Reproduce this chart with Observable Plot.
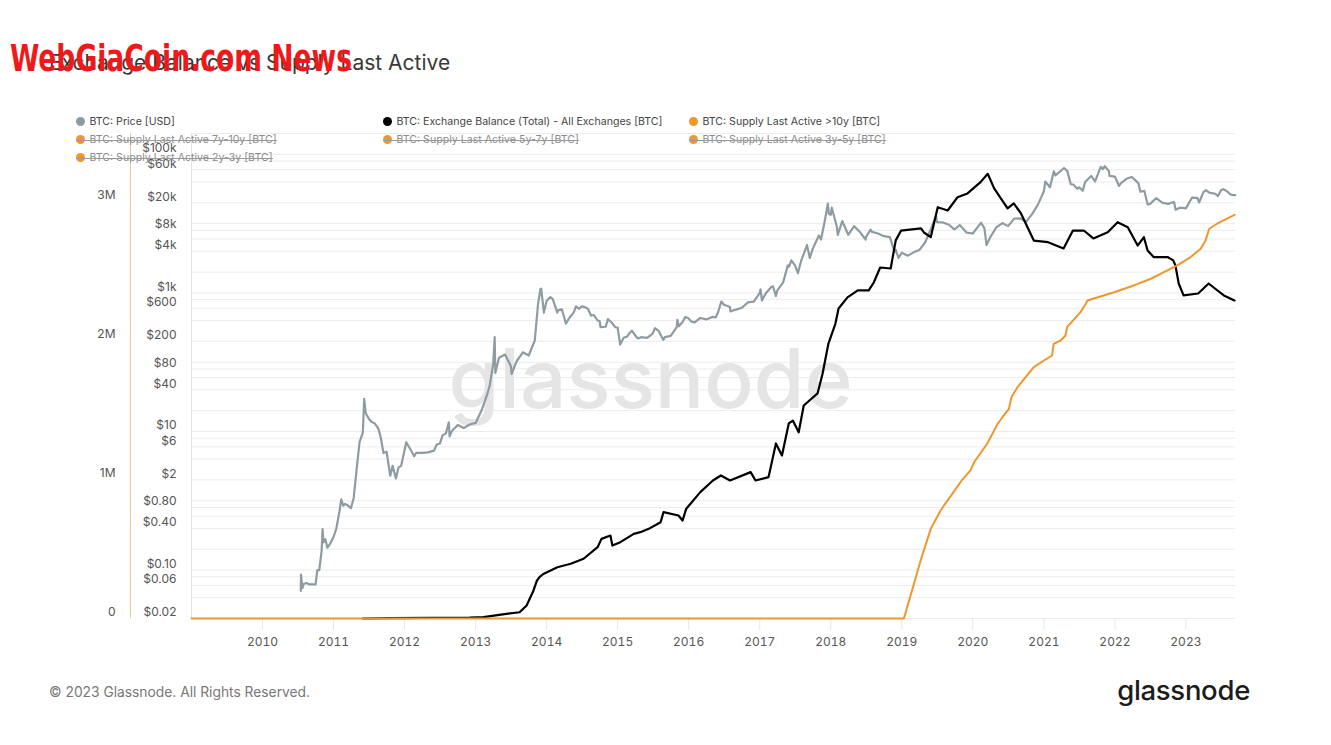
<!DOCTYPE html>
<html><head><meta charset="utf-8">
<script src="https://cdn.jsdelivr.net/npm/d3@7"></script>
<script src="https://cdn.jsdelivr.net/npm/@observablehq/plot@0.6"></script>
<style>
body{margin:0;background:#fff;font-family:Inter,"Noto Sans",sans-serif;}
#wrap{position:relative;width:1331px;height:745px;overflow:hidden;background:#fff;}
.abs{position:absolute;}
#title{left:49px;top:49px;font-size:21px;color:#383838;white-space:nowrap;line-height:28px;}
#wm{left:10px;top:36px;font-family:"Liberation Sans Narrow","DejaVu Sans Condensed","Liberation Sans",sans-serif;font-weight:bold;font-size:38px;color:#f01818;white-space:nowrap;line-height:44px;transform-origin:0 50%;}
#box{left:49px;top:103px;width:1199px;height:555px;border:1px solid #e4e4e4;}
#p1,#p2{position:absolute;left:0;top:103px;}
.leg{position:absolute;font-size:10.6px;color:#454545;white-space:nowrap;line-height:14px;}
.leg .dot{display:inline-block;width:9px;height:9px;border-radius:50%;margin-right:5px;vertical-align:-1px;}
.leg.off{color:#8c8c8c;}
.leg.off::after{content:"";position:absolute;left:0;right:0;top:7px;height:1px;background:#9a9a9a;}
#foot{left:49px;top:683px;font-size:13.8px;color:#777;white-space:nowrap;line-height:18px;}
#logo{right:81px;top:672px;font-size:27.5px;font-weight:500;color:#1c1c1c;letter-spacing:-0.3px;line-height:36px;}
</style></head>
<body><div id="wrap">
<div id="title" class="abs">Exchange Balance vs Supply Last Active</div>
<div id="wm" class="abs">WebGiaCoin.com News</div>
<div id="box" class="abs"></div>
<div id="p1"></div><div id="p2"></div>
<div id="legend"></div>
<div id="foot" class="abs">© 2023 Glassnode. All Rights Reserved.</div>
<div id="logo" class="abs">glassnode</div>
</div>
<script>
// ---- legend ----
const legendNames = ["BTC: Price [USD]","BTC: Exchange Balance (Total) - All Exchanges [BTC]","BTC: Supply Last Active >10y [BTC]",
 "BTC: Supply Last Active 7y-10y [BTC]","BTC: Supply Last Active 5y-7y [BTC]","BTC: Supply Last Active 3y-5y [BTC]",
 "BTC: Supply Last Active 2y-3y [BTC]"];
const legendColors = ["#8d9ca2","#000000","#f0962e","#f0962e","#f0962e","#f0962e","#f0962e"];
const legendOff = [false,false,false,true,true,true,true];

// ---- axes ----
const years = [2010,2011,2012,2013,2014,2015,2016,2017,2018,2019,2020,2021,2022,2023];
const priceTicks = [100000,60000,20000,8000,4000,1000,600,200,80,40,10,6,2,0.8,0.4,0.1,0.06,0.02];
const priceLabels = ["$100k","$60k","$20k","$8k","$4k","$1k","$600","$200","$80","$40","$10","$6","$2","$0.80","$0.40","$0.10","$0.06","$0.02"];
const gridTicks = [0.02,0.04,0.06,0.08,0.1,0.2,0.4,0.6,0.8,1,2,4,6,8,10,20,40,60,80,100,200,400,600,800,1000,2000,4000,6000,8000,10000,20000,40000,60000,80000,100000,200000];
const btcTicks = [0,1000000,2000000,3000000];
const btcLabels = ["0","1M","2M","3M"];

// ---- BTC price [USD] ----
const priceDates = ["2010-07-17","2010-07-18","2010-07-25","2010-08-01","2010-08-15","2010-09-01","2010-09-15","2010-10-01","2010-10-10","2010-10-20","2010-11-01","2010-11-06","2010-11-10","2010-11-20","2010-12-01","2010-12-15",
"2011-01-01","2011-01-15","2011-02-01","2011-02-10","2011-02-20","2011-03-01","2011-03-15","2011-04-01","2011-04-15","2011-05-01","2011-05-15","2011-06-01","2011-06-08","2011-06-15","2011-06-20","2011-07-01","2011-07-15","2011-08-01","2011-08-20","2011-09-01","2011-09-15","2011-10-01","2011-10-20","2011-11-01","2011-11-18","2011-12-01","2011-12-15",
"2012-01-01","2012-01-10","2012-02-01","2012-02-20","2012-03-01","2012-04-01","2012-05-01","2012-06-01","2012-06-15","2012-07-01","2012-07-15","2012-08-01","2012-08-16","2012-08-20","2012-09-01","2012-10-01","2012-11-01","2012-12-01",
"2013-01-01","2013-02-01","2013-03-01","2013-03-15","2013-04-01","2013-04-09","2013-04-12","2013-05-01","2013-06-01","2013-07-01","2013-07-05","2013-08-01","2013-09-01","2013-10-01","2013-10-20","2013-11-01","2013-11-18","2013-11-30","2013-12-04","2013-12-18",
"2014-01-01","2014-01-20","2014-02-01","2014-02-25","2014-03-01","2014-03-20","2014-04-01","2014-04-10","2014-05-01","2014-05-20","2014-06-01","2014-06-15","2014-07-01","2014-07-20","2014-08-01","2014-08-18","2014-09-01","2014-09-20","2014-10-01","2014-10-05","2014-11-01","2014-11-12","2014-12-01","2014-12-20",
"2015-01-01","2015-01-14","2015-02-01","2015-02-20","2015-03-01","2015-03-15","2015-04-01","2015-04-15","2015-05-01","2015-06-01","2015-06-20","2015-07-01","2015-07-12","2015-08-01","2015-08-24","2015-09-01","2015-10-01","2015-11-01","2015-11-04","2015-11-12","2015-12-01","2015-12-15",
"2016-01-01","2016-01-15","2016-02-01","2016-03-01","2016-04-01","2016-05-01","2016-05-20","2016-06-01","2016-06-17","2016-07-01","2016-08-01","2016-08-03","2016-09-01","2016-10-01","2016-11-01","2016-12-01",
"2017-01-01","2017-01-05","2017-01-12","2017-02-01","2017-03-01","2017-03-10","2017-03-25","2017-04-01","2017-05-01","2017-05-25","2017-06-01","2017-06-12","2017-07-01","2017-07-16","2017-08-01","2017-09-01","2017-09-15","2017-10-01","2017-11-01","2017-11-12","2017-12-01","2017-12-17","2017-12-22",
"2018-01-01","2018-01-06","2018-02-01","2018-02-06","2018-03-01","2018-04-01","2018-05-01","2018-06-01","2018-06-29","2018-07-01","2018-07-25","2018-08-01","2018-09-01","2018-10-01","2018-11-01","2018-11-25","2018-12-01","2018-12-15",
"2019-01-01","2019-02-01","2019-03-01","2019-04-01","2019-05-01","2019-06-01","2019-06-26","2019-07-01","2019-08-01","2019-09-01","2019-09-25","2019-10-01","2019-10-26","2019-11-01","2019-12-01",
"2020-01-01","2020-02-01","2020-02-13","2020-03-01","2020-03-12","2020-04-01","2020-05-01","2020-06-01","2020-07-01","2020-08-01","2020-09-01","2020-10-01","2020-11-01","2020-12-01",
"2021-01-01","2021-01-08","2021-02-01","2021-02-21","2021-03-01","2021-04-01","2021-04-14","2021-05-01","2021-05-19","2021-06-01","2021-06-22","2021-07-01","2021-07-20","2021-08-01","2021-09-01","2021-09-21","2021-10-01","2021-10-20","2021-11-01","2021-11-10","2021-12-01","2021-12-04",
"2022-01-01","2022-01-22","2022-02-01","2022-03-01","2022-03-28","2022-04-01","2022-05-01","2022-05-12","2022-06-01","2022-06-18","2022-07-01","2022-08-01","2022-09-01","2022-10-01","2022-11-01","2022-11-09","2022-12-01",
"2023-01-01","2023-02-01","2023-03-01","2023-03-10","2023-04-01","2023-04-14","2023-05-01","2023-06-01","2023-06-15","2023-07-01","2023-07-13","2023-08-01","2023-08-17","2023-09-01","2023-09-12"];
const priceValues = [0.05,0.086,0.055,0.063,0.065,0.062,0.062,0.062,0.10,0.10,0.19,0.39,0.25,0.28,0.21,0.24,
0.30,0.39,0.71,1.05,0.85,0.90,0.86,0.78,1.1,3.0,7.0,9.6,29.6,19,17.5,15.4,13.8,13.1,11,8.2,4.9,5.1,2.3,3.2,2.1,3.0,3.2,
5.3,7,5.5,4.4,4.9,4.9,5,5.3,6.5,6.7,8.8,9.4,13.5,8.5,10.2,12.4,11.2,12.6,
13.3,20.4,34,47,93,230,70,116,129,88,68,105,139,125,170,205,700,1130,1150,520,
770,870,820,520,560,580,450,360,450,520,640,590,640,620,590,470,480,400,390,320,325,420,375,320,
315,180,225,235,260,285,245,220,230,225,245,260,310,280,210,230,240,320,410,330,380,450,
430,385,375,435,415,450,445,530,750,675,625,540,575,610,730,750,
1000,1130,780,990,1220,1250,900,1080,1420,2500,2400,2950,2500,1930,2870,4900,3200,4400,6750,5900,10900,19500,13800,
13400,17100,9100,6900,10900,6900,9200,7500,5900,6400,8200,7600,7200,6600,6400,3900,4200,3200,
3800,3450,3820,4150,5350,8550,12900,10500,10400,9630,8400,8300,9550,9200,7400,
7200,9350,10300,8550,4900,6450,8800,10200,9200,11800,11900,10600,13700,18800,
29400,40500,33500,57000,49600,58900,63500,57800,37000,36700,31800,33500,29800,39900,48800,40600,48100,66000,61300,67600,57200,49000,
47700,35000,38500,44400,47100,46300,38500,28900,29800,19000,19300,23300,20100,19300,20500,15900,17000,
16600,23700,23600,20200,28500,30400,28000,27000,25000,30500,31400,29200,26600,25800,25800];

// ---- Exchange balance (Total) - All Exchanges [BTC] ----
const balanceDates = ["2011-06-01","2011-10-15","2012-06-01","2012-12-01","2013-02-10","2013-05-20","2013-08-15","2013-09-20","2013-10-25","2013-11-12","2013-11-25","2013-12-15",
"2014-02-25","2014-05-05","2014-07-10","2014-09-20","2014-10-10","2014-11-25","2014-12-05","2015-01-15","2015-03-25","2015-04-28","2015-06-10","2015-08-10","2015-08-25","2015-11-10","2015-12-01","2015-12-20",
"2016-03-01","2016-05-05","2016-06-15","2016-08-01","2016-11-15","2016-12-10","2017-02-15","2017-03-25","2017-04-25","2017-05-30","2017-06-20","2017-07-20","2017-08-15","2017-10-25","2017-11-20","2017-12-20",
"2018-01-25","2018-02-10","2018-03-28","2018-05-20","2018-07-15","2018-08-10","2018-09-12","2018-11-05","2018-12-01","2018-12-28","2019-04-10","2019-04-25","2019-05-30","2019-07-05","2019-08-25","2019-10-15","2019-12-05",
"2020-02-10","2020-03-18","2020-04-20","2020-06-28","2020-07-30","2020-09-05","2020-11-10","2021-01-22","2021-04-12","2021-05-30","2021-07-25","2021-09-12","2021-11-25",
"2022-01-15","2022-03-08","2022-04-28","2022-05-30","2022-06-18","2022-07-20","2022-10-01","2022-10-28","2022-11-08","2022-11-25","2022-12-20","2023-03-05","2023-04-28","2023-05-22","2023-07-15","2023-09-08"];
const balanceValues = [0,2000,4000,6000,10000,30000,45000,94000,200000,273000,297000,320000,
369000,394000,430000,513000,573000,597000,525000,549000,609000,621000,645000,693000,765000,741000,705000,790000,
909000,993000,1029000,993000,1053000,993000,1017000,1259000,1173000,1403000,1424000,1340000,1532000,1619000,1763000,1978000,
2122000,2230000,2310000,2360000,2360000,2417000,2525000,2518000,2720000,2790000,2806000,2777000,2743000,2959000,2935000,3031000,3058000,
3139000,3199000,3094000,2950000,2986000,2914000,2719000,2707000,2662000,2791000,2791000,2734000,2779000,
2851000,2815000,2683000,2743000,2647000,2599000,2599000,2576000,2540000,2410000,2324000,2338000,2410000,2383000,2324000,2288000];

// ---- Supply Last Active >10y [BTC] ----
const supplyDates = ["2009-01-01","2019-01-12","2019-02-18","2019-04-08","2019-05-30","2019-07-20","2019-08-12","2019-10-12","2019-11-05","2019-12-20",
"2020-01-08","2020-03-15","2020-05-08","2020-06-02","2020-07-05","2020-07-18","2020-08-18","2020-11-10","2021-01-01","2021-02-12","2021-02-20","2021-03-28","2021-04-22","2021-04-30","2021-07-08","2021-08-05","2021-08-12","2021-12-28",
"2022-04-08","2022-07-05","2022-09-10","2022-11-18","2023-01-25","2023-03-18","2023-04-12","2023-05-01","2023-06-10","2023-09-08"];
const supplyValues = [0,0,178000,417000,645000,777000,825000,945000,993000,1065000,
1124000,1257000,1400000,1448000,1508000,1592000,1664000,1808000,1856000,1892000,1976000,2000000,2036000,2096000,2204000,2264000,2288000,2347000,
2396000,2444000,2491000,2540000,2600000,2660000,2720000,2804000,2840000,2904000];

const price = priceDates.map((d,i)=>({date:new Date(d), v:priceValues[i]}));
const balance = balanceDates.map((d,i)=>({date:new Date(d), v:balanceValues[i]}));
const supply = supplyDates.map((d,i)=>({date:new Date(d), v:supplyValues[i]}));
const xDomain = [new Date("2009-01-01"), new Date("2023-09-13")];
const yearTicks = years.map(y=>new Date(Date.UTC(y,0,1)));

const W=1331,H=557, common = {width:W,height:H,marginLeft:191,marginRight:96,marginTop:30,marginBottom:42};

const p1 = Plot.plot({...common,
  style:{fontFamily:"Inter, sans-serif",fontSize:"12px",color:"#555",background:"white",overflow:"visible"},
  x:{type:"utc",domain:xDomain},
  y:{type:"log",domain:[0.02,200000],axis:null},
  marks:[
    Plot.ruleY(gridTicks,{stroke:"#ececec"}),
    Plot.ruleX([xDomain[0]],{stroke:"#e3e3e3"}),
    Plot.text(["glassnode"],{text:d=>d,frameAnchor:"middle",dx:-63,dy:6,fontSize:82,fontWeight:500,fill:"#e5e5e5"}),
    Plot.text(priceTicks,{y:d=>d,text:(d,i)=>priceLabels[i],frameAnchor:"left",textAnchor:"end",dx:-15,dy:-6,fill:"#555",fontSize:12}),
    Plot.axisX(yearTicks,{anchor:"bottom",tickSize:12,tickPadding:7,stroke:"#e8e8e8",fill:"#555",label:null,tickFormat:"%Y"}),
    Plot.line(price,{x:"date",y:"v",stroke:"#8d9ca2",strokeWidth:2.2})
  ]});
document.getElementById("p1").appendChild(p1);

const p2 = Plot.plot({...common,
  style:{fontFamily:"Inter, sans-serif",fontSize:"12px",color:"#555",background:"transparent",overflow:"visible"},
  x:{type:"utc",domain:xDomain,axis:null},
  y:{type:"linear",domain:[0,3489000],axis:null},
  marks:[
    Plot.ruleX([xDomain[0]],{dx:-61,stroke:"#f3c890"}),
    Plot.text(btcTicks,{y:d=>d,text:(d,i)=>btcLabels[i],frameAnchor:"left",textAnchor:"end",dx:-76,dy:-6,fill:"#555",fontSize:12}),
    Plot.line(balance,{x:"date",y:"v",stroke:"#000",strokeWidth:2.2}),
    Plot.line(supply,{x:"date",y:"v",stroke:"#f0962e",strokeWidth:2})
  ]});
document.getElementById("p2").appendChild(p2);

// legend
const legCols=[80,387,693], legRows=[122,140,158];
const lg=document.getElementById("legend");
legendNames.forEach((n,i)=>{
  const el=document.createElement("div");
  el.className="leg"+(legendOff[i]?" off":"");
  el.style.left=(legCols[i%3]-4.5)+"px";
  el.style.top=(legRows[Math.floor(i/3)]-7)+"px";
  el.innerHTML=`<span class="dot" style="background:${legendColors[i]}"></span>`;
  el.appendChild(document.createTextNode(n));
  lg.appendChild(el);
});
// fit red watermark width
const wm=document.getElementById("wm");
const ww=wm.getBoundingClientRect().width;
wm.style.transform=`scaleX(${342/ww})`;
</script>
</body></html>
